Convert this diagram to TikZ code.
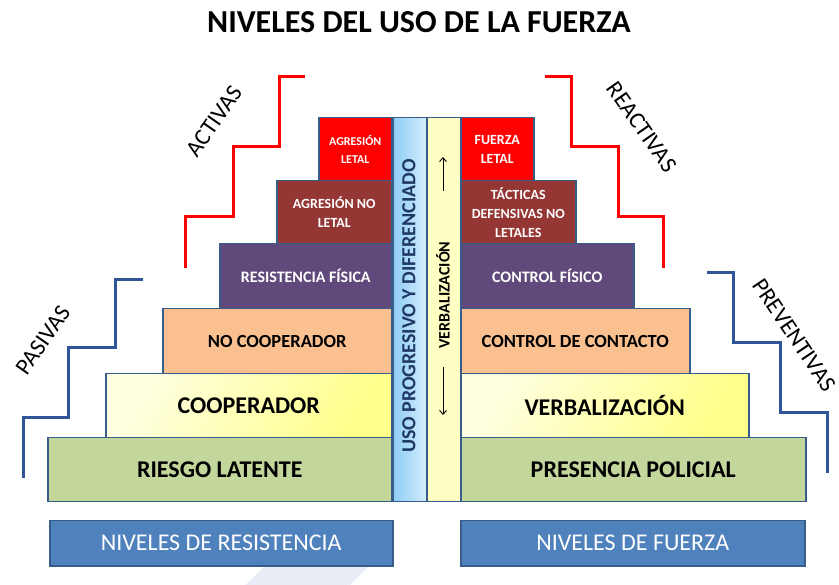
\documentclass[tikz,border=0pt]{standalone}
\usepackage{fontspec}
\setmainfont{Carlito}
\usetikzlibrary{arrows.meta}
\definecolor{bord}{HTML}{385D8A}
\definecolor{redbox}{HTML}{FF0000}
\definecolor{brownbox}{HTML}{943634}
\definecolor{purplebox}{HTML}{604A7B}
\definecolor{orangebox}{HTML}{FAC090}
\definecolor{greenbox}{HTML}{C3D69B}
\definecolor{ylight}{HTML}{FFFFE2}
\definecolor{ystrong}{HTML}{FFFF8A}
\definecolor{bluestrong}{HTML}{8CCCF6}
\definecolor{bluelight}{HTML}{D4EEFC}
\definecolor{ycol}{HTML}{FFFFC4}
\definecolor{navybox}{HTML}{4F81BD}
\definecolor{stairblue}{HTML}{2F5597}
\definecolor{navytext}{HTML}{1F3864}
\definecolor{faint}{HTML}{E9EDF5}
\newcommand{\fs}[1]{\fontsize{#1}{#1*1.3}\selectfont}
\begin{document}
\begin{tikzpicture}[x=1pt,y=-1pt,
  blk/.style={draw=bord, line width=1.5pt, anchor=north west, inner sep=0pt, align=center, font=\bfseries},
  bigtxt/.style={font=\bfseries\fontsize{24}{28}\selectfont},
  midtxt/.style={font=\bfseries\fontsize{18.5}{22}\selectfont},
  smtxt/.style={font=\bfseries\fontsize{16}{19}\selectfont},
  xstxt/.style={font=\bfseries\fontsize{14}{19}\selectfont},
  xxstxt/.style={font=\bfseries\fontsize{12}{18}\selectfont},
  lvl/.style={draw=bord, fill=navybox, line width=1.5pt, anchor=north west, inner sep=0pt, text=white, font=\fontsize{24}{28}\selectfont},
  stairred/.style={draw=redbox, line width=3pt},
  stairblue/.style={draw=stairblue, line width=3pt},
  sidelbl/.style={font=\fontsize{23.5}{26}\selectfont, inner sep=0pt},
  varrow/.style={-{Straight Barb[length=4pt,width=7pt]}, line width=0.9pt},
]
\useasboundingbox (0,0) rectangle (839,585);
% faint background band
\fill[faint] (245,585) -- (268,563) -- (372,563) -- (350,585) -- cycle;

% title
\node[font=\bfseries\fontsize{32}{36}\selectfont] (title) at (419,22) {NIVELES DEL USO DE LA FUERZA};

% stair lines
\draw[stairred] (185,268) -- (185,217) -- (233,217) -- (233,147) -- (279,147) -- (279,77) -- (305,77);
\draw[stairred] (545,77) -- (571,77) -- (571,147) -- (618,147) -- (618,217) -- (663,217) -- (663,268);
\draw[stairblue] (143,280) -- (115,280) -- (115,348) -- (68,348) -- (68,418) -- (23,418) -- (23,478);
\draw[stairblue] (707,273) -- (733,273) -- (733,343) -- (780,343) -- (780,413) -- (827,413) -- (827,473);

% side labels
\node[sidelbl, rotate=55] (activas) at (214,121) {ACTIVAS};
\node[sidelbl, rotate=-55] (reactivas) at (642,127) {REACTIVAS};
\node[sidelbl, rotate=55] (pasivas) at (43,340) {PASIVAS};
\node[sidelbl, rotate=-56] (preventivas) at (794,335) {PREVENTIVAS};

% left blocks (resistance)
\node[blk, fill=redbox, text=white, minimum width=73, minimum height=63, xxstxt] (agl) at (318,117) {AGRESIÓN\\LETAL};
\node[blk, fill=brownbox, text=white, minimum width=115, minimum height=63, xstxt] (anl) at (276,180) {AGRESIÓN NO\\LETAL};
\node[blk, fill=purplebox, text=white, minimum width=172, minimum height=65, smtxt] (rf) at (219,243) {RESISTENCIA FÍSICA};
\node[blk, fill=orangebox, minimum width=229, minimum height=65, midtxt] (nc) at (162,308) {NO COOPERADOR};
\node[blk, left color=ylight, right color=ystrong, shading angle=60, minimum width=286, minimum height=64, bigtxt] (co) at (105,373) {COOPERADOR};
\node[blk, fill=greenbox, minimum width=344, minimum height=64, bigtxt] (rl) at (47,437) {RIESGO LATENTE};

% central columns
\node[blk, left color=bluestrong, right color=bluelight, minimum width=34, minimum height=384] (ucol) at (392,117) {};
\node[blk, fill=ycol, minimum width=34, minimum height=384] (vcol) at (426,117) {};
\node[rotate=90, text=navytext, font=\bfseries\fontsize{20}{22}\selectfont, inner sep=0pt] (uso) at (409,306) {USO PROGRESIVO Y DIFERENCIADO};
\node[rotate=90, font=\bfseries\fontsize{16}{18}\selectfont, inner sep=0pt] (verb) at (443,295) {VERBALIZACIÓN};
\coordinate (upA) at (443,191);
\coordinate (upB) at (443,157);
\coordinate (dnA) at (443,367);
\coordinate (dnB) at (443,415);
\draw[varrow] (upA) -- (upB);
\draw[varrow] (dnA) -- (dnB);

% right blocks (force)
\node[blk, fill=redbox, text=white, minimum width=73, minimum height=63, xstxt] (fl) at (460,117) {FUERZA\\LETAL};
\node[blk, fill=brownbox, text=white, minimum width=115, minimum height=63, xstxt] (td) at (460,180) {TÁCTICAS\\DEFENSIVAS NO\\LETALES};
\node[blk, fill=purplebox, text=white, minimum width=173, minimum height=65, smtxt] (cf) at (460,243) {CONTROL FÍSICO};
\node[blk, fill=orangebox, minimum width=229, minimum height=65, midtxt] (cc) at (460,308) {CONTROL DE CONTACTO};
\node[blk, left color=ylight, right color=ystrong, shading angle=60, minimum width=288, minimum height=64, bigtxt] (vb) at (460,373) {VERBALIZACIÓN};
\node[blk, fill=greenbox, minimum width=345, minimum height=64, bigtxt] (pp) at (460,437) {PRESENCIA POLICIAL};

% bottom labels
\node[lvl, minimum width=343, minimum height=45] (nr) at (49,520) {NIVELES DE RESISTENCIA};
\node[lvl, minimum width=344, minimum height=45] (nf) at (460,520) {NIVELES DE FUERZA};
\end{tikzpicture}
\end{document}
